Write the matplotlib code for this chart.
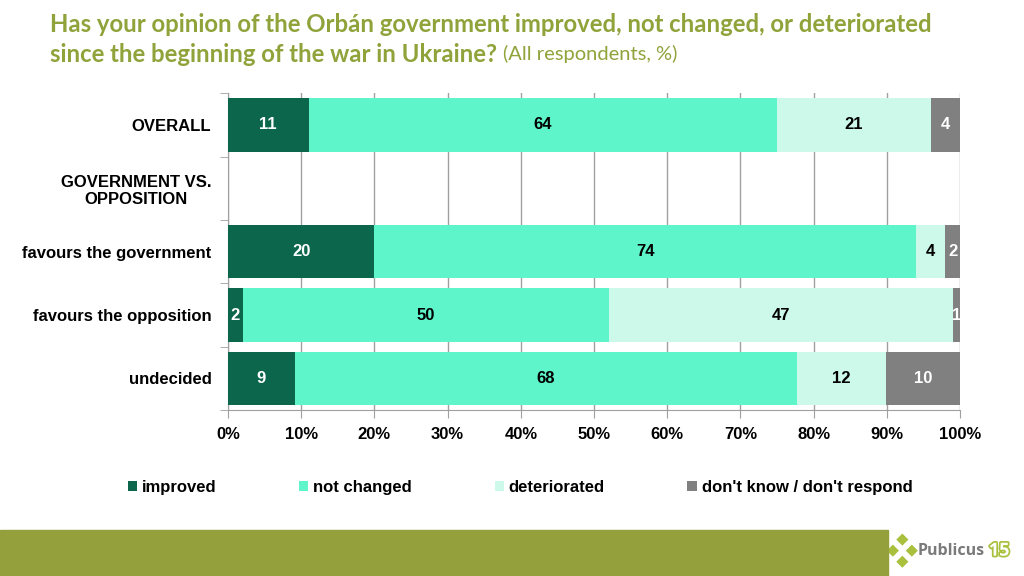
import numpy as np
import matplotlib.pyplot as plt
import matplotlib.patheffects as pe
from matplotlib.patches import Rectangle

categories = ["OVERALL", "GOVERNMENT VS.\nOPPOSITION", "favours the government",
              "favours the opposition", "undecided"]
series = ["improved", "not changed", "deteriorated", "don't know / don't respond"]
improved = [11, 0, 20, 2, 9]
not_changed = [64, 0, 74, 50, 68]
deteriorated = [21, 0, 4, 47, 12]
dont_know = [4, 0, 2, 1, 10]
colors = ["#0b664c", "#5ef5cb", "#cdf9eb", "#808080"]
text_colors = ["white", "black", "black", "white"]

values = np.array([improved, not_changed, deteriorated, dont_know], dtype=float)
totals = values.sum(axis=0)
totals[totals == 0] = 1
shares = values / totals * 100  # 100% stacked

fig = plt.figure(figsize=(10.24, 5.76), dpi=100)
ax = fig.add_axes([0.2227, 0.288, 0.7148, 0.55])

y = np.arange(len(categories))
left = np.zeros(len(categories))
for i, name in enumerate(series):
    ax.barh(y, shares[i], left=left, height=0.84, color=colors[i], label=name, zorder=3)
    for j in range(len(categories)):
        v = values[i][j]
        if v > 0:
            ax.text(left[j] + shares[i][j] / 2, y[j], f"{v:.0f}", ha="center", va="center",
                    color=text_colors[i], fontsize=12, fontweight="bold",
                    family="Liberation Sans", zorder=4)
    left += shares[i]

ax.set_xlim(0, 100)
ax.set_ylim(len(categories) - 0.5, -0.5)
ax.set_xticks(np.arange(0, 101, 10))
ax.set_xticklabels([f"{t}%" for t in range(0, 101, 10)], fontsize=12,
                   fontweight="bold", family="Liberation Sans")
ax.xaxis.grid(True, color="#a0a0a0", linewidth=1, zorder=0)
ax.set_yticks(y)
ax.set_yticklabels(categories, fontsize=12, fontweight="bold", family="Liberation Sans")
ax.set_yticks(np.arange(-0.5, len(categories)), minor=True)
ax.tick_params(axis="y", which="major", length=0, pad=12)
ax.tick_params(axis="y", which="minor", length=6, color="#a0a0a0", direction="out")
ax.tick_params(axis="x", length=6, color="#a0a0a0", pad=6)
for lab in ax.get_yticklabels():
    lab.set_multialignment("center")
for s in ["top", "right"]:
    ax.spines[s].set_visible(False)
for s in ["left", "bottom"]:
    ax.spines[s].set_color("#a0a0a0")

handles, labels = ax.get_legend_handles_labels()
leg = fig.legend(handles, labels, loc="center", bbox_to_anchor=(0.508, 0.153), ncol=4,
                 frameon=False, handlelength=0.55, handleheight=0.55, handletextpad=0.3,
                 columnspacing=4.95, prop={"family": "Liberation Sans", "weight": "bold", "size": 12})

title_color = "#8fa33a"
fig.text(0.049, 0.958, "Has your opinion of the Orbán government improved, not changed, or deteriorated",
         fontsize=17.2, fontweight="bold", color=title_color, family="Lato", va="center")
t2 = fig.text(0.049, 0.906, "since the beginning of the war in Ukraine?",
              fontsize=17.2, fontweight="bold", color=title_color, family="Lato", va="center")
fig.canvas.draw()
bb = t2.get_window_extent().transformed(fig.transFigure.inverted())
fig.text(bb.x1 + 0.006, 0.906, "(All respondents, %)", fontsize=14.5, color=title_color,
         family="Lato", va="center")

# footer band and logo
fig.patches.append(Rectangle((0, 0), 0.867, 0.08, transform=fig.transFigure,
                             color="#94a03c", zorder=0))
lax = fig.add_axes([0.868, 0.0, 0.132, 0.08])
lax.set_xlim(0, 1)
lax.set_ylim(0, 1)
lax.axis("off")
lax.scatter([0.03, 0.10, 0.10, 0.17], [0.55, 0.79, 0.31, 0.55], marker="D", s=38,
            color="#a8c03c", edgecolors="none")
lax.text(0.215, 0.55, "Publicus", fontsize=11.5, fontweight="bold", color="#7a7a7a",
         family="Open Sans", va="center", ha="left")
lax.text(0.74, 0.55, "15", fontsize=13, fontweight="bold", color="white",
         family="Open Sans", va="center", ha="left",
         path_effects=[pe.withStroke(linewidth=2.5, foreground="#a8c03c")])

fig.savefig("out.png", dpi=100)
